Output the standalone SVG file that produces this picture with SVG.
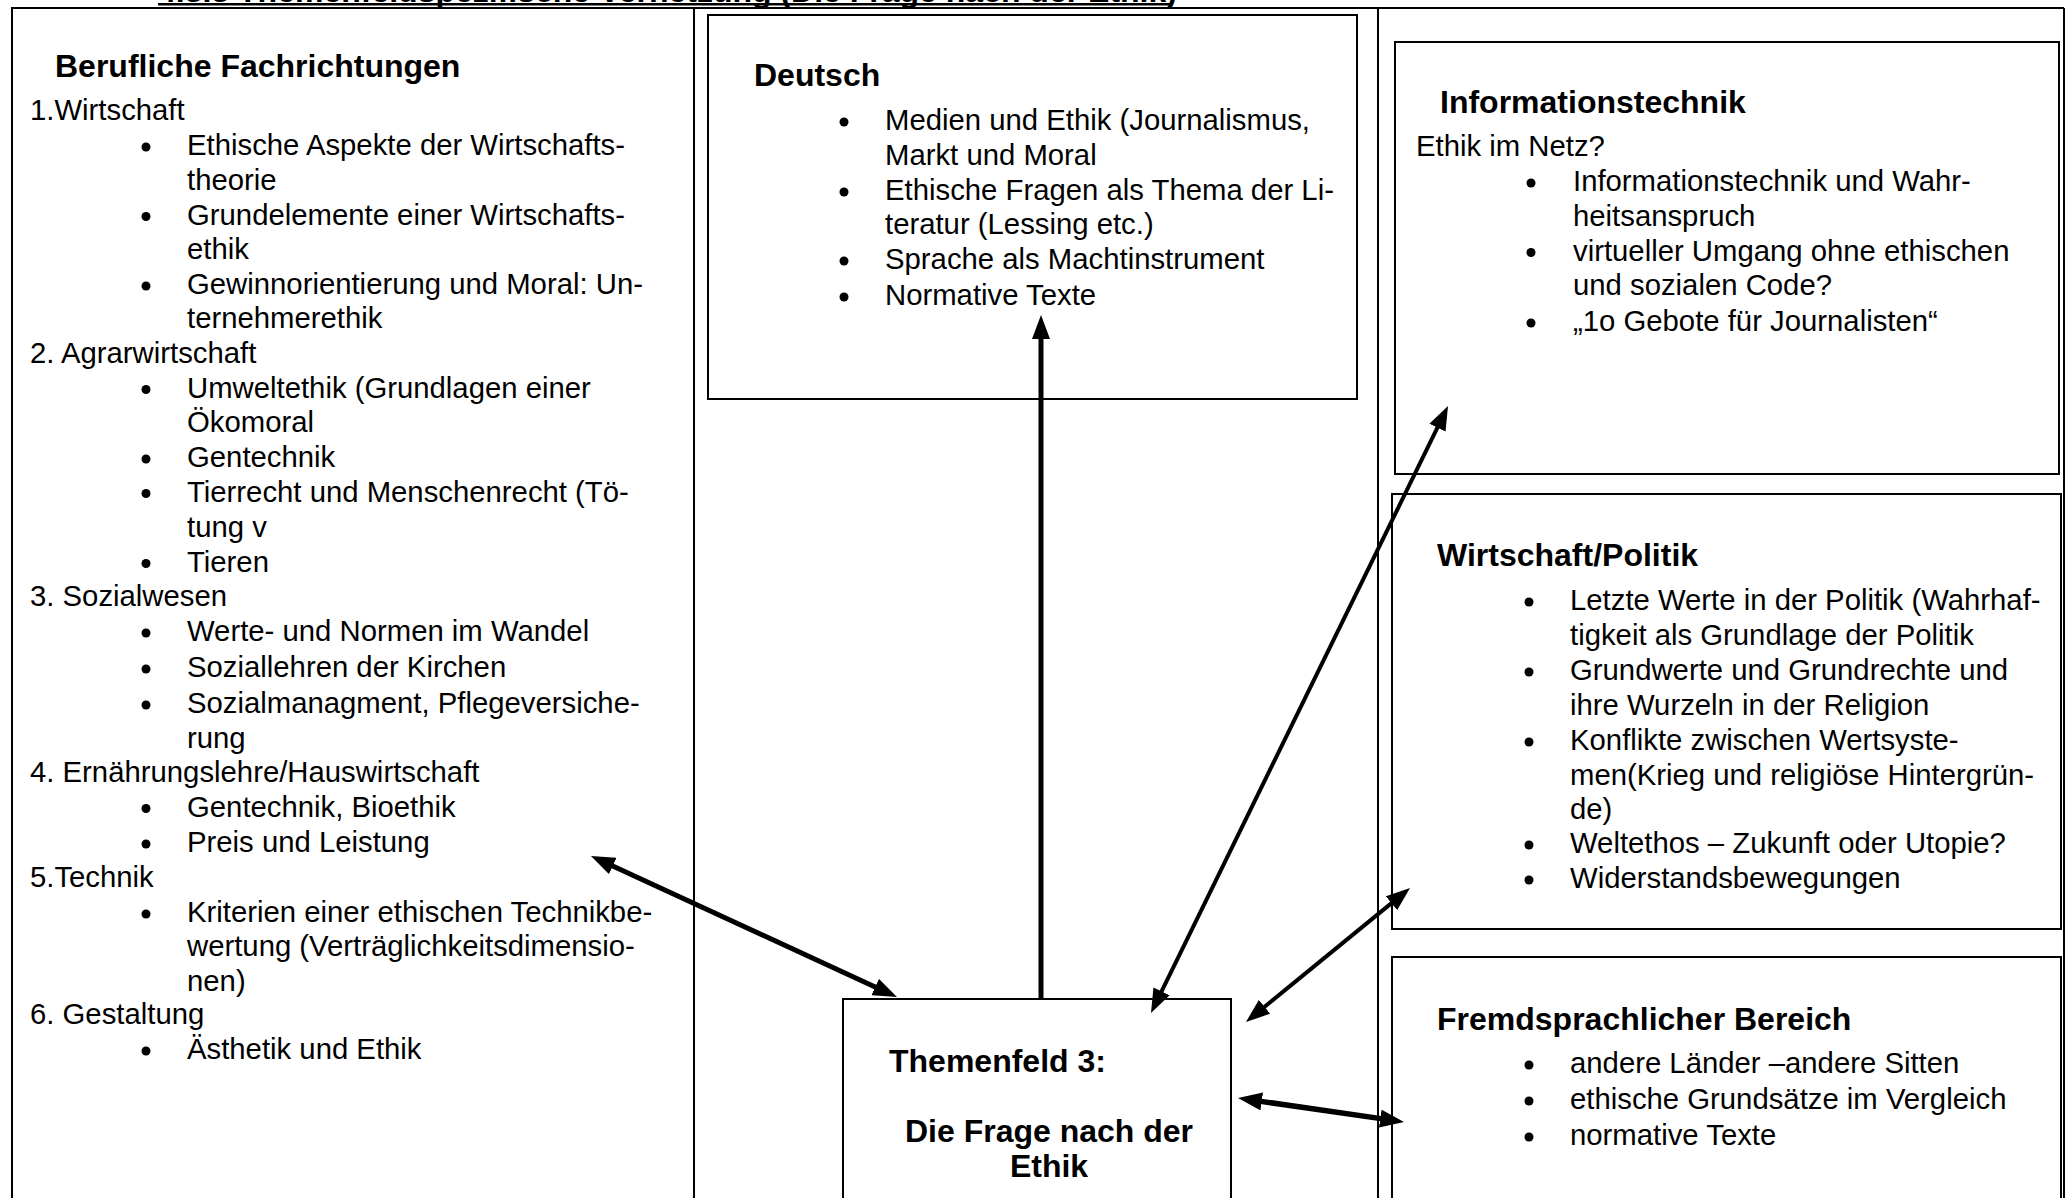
<svg xmlns="http://www.w3.org/2000/svg" width="2065" height="1198" viewBox="0 0 2065 1198">
<defs>
<style>
.t{font-family:"Liberation Sans",Arial,sans-serif;font-size:29.3px;fill:#000}
.h{font-family:"Liberation Sans",Arial,sans-serif;font-size:32px;font-weight:bold;fill:#000}
.box{fill:none;stroke:#000;stroke-width:2}
.rule{stroke:#000;stroke-width:2;fill:none}
.b{fill:#000}
.conn{stroke:#000;fill:none}
</style>
<marker id="ah" viewBox="0 0 24 18" refX="6" refY="9" markerWidth="24" markerHeight="18" markerUnits="userSpaceOnUse" orient="auto-start-reverse">
<path d="M0,0 L24,9 L0,18 z" fill="#000"/>
</marker>
</defs>
<rect x="0" y="0" width="2065" height="1198" fill="#fff"/>

<g id="title">
<text class="h" x="158" y="2">4.3.3 Themenfeldspezifische Vernetzung (Die Frage nach der Ethik)</text>
<rect x="158" y="3" width="1014" height="2.5" fill="#000"/>
</g>

<g id="table">
<line class="rule" x1="11" y1="8" x2="2064" y2="8"/>
<line class="rule" x1="12" y1="8" x2="12" y2="1198"/>
<line class="rule" x1="694" y1="8" x2="694" y2="1198"/>
<line class="rule" x1="1378" y1="8" x2="1378" y2="1198"/>
<line class="rule" x1="2064" y1="8" x2="2064" y2="1198"/>
</g>

<g id="node-berufliche">
<text class="h" x="55" y="77">Berufliche Fachrichtungen</text>
<text class="t" x="30" y="120">1.Wirtschaft</text>
<circle class="b" cx="146" cy="147" r="4.5"/>
<text class="t" x="187" y="155">Ethische Aspekte der Wirtschafts-</text>
<text class="t" x="187" y="189.5">theorie</text>
<circle class="b" cx="146" cy="216.5" r="4.5"/>
<text class="t" x="187" y="224.5">Grundelemente einer Wirtschafts-</text>
<text class="t" x="187" y="259">ethik</text>
<circle class="b" cx="146" cy="286" r="4.5"/>
<text class="t" x="187" y="294">Gewinnorientierung und Moral: Un-</text>
<text class="t" x="187" y="328">ternehmerethik</text>
<text class="t" x="30" y="362.5">2. Agrarwirtschaft</text>
<circle class="b" cx="146" cy="389.5" r="4.5"/>
<text class="t" x="187" y="397.5">Umweltethik (Grundlagen einer</text>
<text class="t" x="187" y="432">Ökomoral</text>
<circle class="b" cx="146" cy="459" r="4.5"/>
<text class="t" x="187" y="467">Gentechnik</text>
<circle class="b" cx="146" cy="493.5" r="4.5"/>
<text class="t" x="187" y="501.5">Tierrecht und Menschenrecht (Tö-</text>
<text class="t" x="187" y="537">tung v</text>
<circle class="b" cx="146" cy="563.5" r="4.5"/>
<text class="t" x="187" y="571.5">Tieren</text>
<text class="t" x="30" y="606">3. Sozialwesen</text>
<circle class="b" cx="146" cy="633" r="4.5"/>
<text class="t" x="187" y="641">Werte- und Normen im Wandel</text>
<circle class="b" cx="146" cy="669" r="4.5"/>
<text class="t" x="187" y="677">Soziallehren der Kirchen</text>
<circle class="b" cx="146" cy="705" r="4.5"/>
<text class="t" x="187" y="713">Sozialmanagment, Pflegeversiche-</text>
<text class="t" x="187" y="748">rung</text>
<text class="t" x="30" y="781.5">4. Ernährungslehre/Hauswirtschaft</text>
<circle class="b" cx="146" cy="808.5" r="4.5"/>
<text class="t" x="187" y="816.5">Gentechnik, Bioethik</text>
<circle class="b" cx="146" cy="844" r="4.5"/>
<text class="t" x="187" y="852">Preis und Leistung</text>
<text class="t" x="30" y="886.5">5.Technik</text>
<circle class="b" cx="146" cy="914" r="4.5"/>
<text class="t" x="187" y="922">Kriterien einer ethischen Technikbe-</text>
<text class="t" x="187" y="956">wertung (Verträglichkeitsdimensio-</text>
<text class="t" x="187" y="990.5">nen)</text>
<text class="t" x="30" y="1023.5">6. Gestaltung</text>
<circle class="b" cx="146" cy="1051" r="4.5"/>
<text class="t" x="187" y="1059">Ästhetik und Ethik</text>
</g>

<g id="node-deutsch">
<rect class="box" x="708" y="15" width="649" height="384"/>
<text class="h" x="754" y="86">Deutsch</text>
<circle class="b" cx="844" cy="122" r="4.5"/>
<text class="t" x="885" y="130">Medien und Ethik (Journalismus,</text>
<text class="t" x="885" y="165">Markt und Moral</text>
<circle class="b" cx="844" cy="192" r="4.5"/>
<text class="t" x="885" y="200">Ethische Fragen als Thema der Li-</text>
<text class="t" x="885" y="234">teratur (Lessing etc.)</text>
<circle class="b" cx="844" cy="261" r="4.5"/>
<text class="t" x="885" y="269">Sprache als Machtinstrument</text>
<circle class="b" cx="844" cy="297" r="4.5"/>
<text class="t" x="885" y="305">Normative Texte</text>
</g>

<g id="node-informationstechnik">
<rect class="box" x="1395" y="42" width="664" height="432"/>
<text class="h" x="1440" y="113">Informationstechnik</text>
<text class="t" x="1416" y="156">Ethik im Netz?</text>
<circle class="b" cx="1531" cy="183" r="4.5"/>
<text class="t" x="1573" y="191">Informationstechnik und Wahr-</text>
<text class="t" x="1573" y="225.5">heitsanspruch</text>
<circle class="b" cx="1531" cy="252.5" r="4.5"/>
<text class="t" x="1573" y="260.5">virtueller Umgang ohne ethischen</text>
<text class="t" x="1573" y="295">und sozialen Code?</text>
<circle class="b" cx="1531" cy="323" r="4.5"/>
<text class="t" x="1573" y="331">„1o Gebote für Journalisten“</text>
</g>

<g id="node-wirtschaft-politik">
<rect class="box" x="1392" y="494" width="669" height="435"/>
<text class="h" x="1437" y="566">Wirtschaft/Politik</text>
<circle class="b" cx="1529" cy="602" r="4.5"/>
<text class="t" x="1570" y="610">Letzte Werte in der Politik (Wahrhaf-</text>
<text class="t" x="1570" y="645">tigkeit als Grundlage der Politik</text>
<circle class="b" cx="1529" cy="672" r="4.5"/>
<text class="t" x="1570" y="680">Grundwerte und Grundrechte und</text>
<text class="t" x="1570" y="715">ihre Wurzeln in der Religion</text>
<circle class="b" cx="1529" cy="742" r="4.5"/>
<text class="t" x="1570" y="750">Konflikte zwischen Wertsyste-</text>
<text class="t" x="1570" y="784.5">men(Krieg und religiöse Hintergrün-</text>
<text class="t" x="1570" y="818.5">de)</text>
<circle class="b" cx="1529" cy="845" r="4.5"/>
<text class="t" x="1570" y="853">Weltethos – Zukunft oder Utopie?</text>
<circle class="b" cx="1529" cy="880" r="4.5"/>
<text class="t" x="1570" y="888">Widerstandsbewegungen</text>
</g>

<g id="node-fremdsprachlich">
<rect class="box" x="1392" y="957" width="669" height="260"/>
<text class="h" x="1437" y="1030">Fremdsprachlicher Bereich</text>
<circle class="b" cx="1529" cy="1065" r="4.5"/>
<text class="t" x="1570" y="1073">andere Länder –andere Sitten</text>
<circle class="b" cx="1529" cy="1101" r="4.5"/>
<text class="t" x="1570" y="1109">ethische Grundsätze im Vergleich</text>
<circle class="b" cx="1529" cy="1137" r="4.5"/>
<text class="t" x="1570" y="1145">normative Texte</text>
</g>

<g id="node-themenfeld">
<rect class="box" x="843" y="999" width="388" height="220" fill="#fff"/>
<text class="h" x="889" y="1072">Themenfeld 3:</text>
<text class="h" x="1049" y="1142" text-anchor="middle">Die Frage nach der</text>
<text class="h" x="1049" y="1177" text-anchor="middle">Ethik</text>
</g>

<g id="connectors">
<line class="conn" stroke-width="5" x1="607.3" y1="863.5" x2="880.6" y2="989.5" marker-start="url(#ah)" marker-end="url(#ah)"/>
<line class="conn" stroke-width="5" x1="1041" y1="999" x2="1041" y2="333" marker-end="url(#ah)"/>
<line class="conn" stroke-width="4" x1="1158.9" y1="996.8" x2="1440.1" y2="422.2" marker-start="url(#ah)" marker-end="url(#ah)"/>
<line class="conn" stroke-width="4" x1="1259.9" y1="1010.6" x2="1396.1" y2="899.4" marker-start="url(#ah)" marker-end="url(#ah)"/>
<line class="conn" stroke-width="5.5" x1="1255.8" y1="1100.6" x2="1386.2" y2="1119.4" marker-start="url(#ah)" marker-end="url(#ah)"/>
</g>
</svg>
